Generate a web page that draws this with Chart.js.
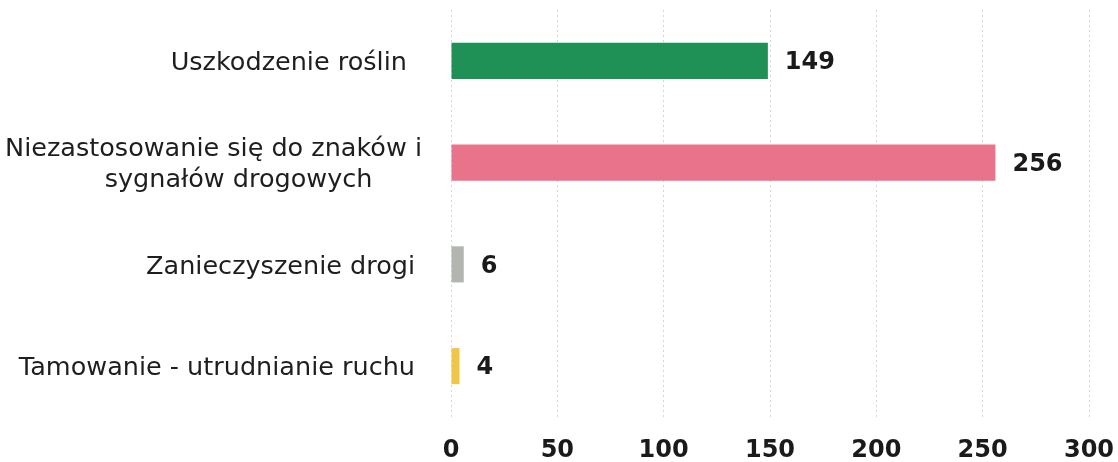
<!DOCTYPE html>
<html>
<head>
<meta charset="utf-8">
<script src="https://cdn.jsdelivr.net/npm/chart.js@4"></script>
<style>
  html, body { margin: 0; padding: 0; background: #fff; }
  #wrap { width: 1118px; height: 462px; }
</style>
</head>
<body>
<div id="wrap"><canvas id="chart" width="1118" height="462"></canvas></div>
<script>
const categories = [
  ['Uszkodzenie roślin '],
  ['Niezastosowanie się do znaków i', 'sygnałów drogowych'],
  ['Zanieczyszenie drogi'],
  ['Tamowanie - utrudnianie ruchu']
];
const values = [149, 256, 6, 4];
const barColors = ['#1f9157', '#e9738b', '#b2b5b0', '#f1c648'];
const xTicks = [0, 50, 100, 150, 200, 250, 300];

const fontFamily = '"DejaVu Sans", Verdana, sans-serif';

// category labels on the left (the 2-line one is centred like in the original)
const catLabels = {
  id: 'catLabels',
  afterDraw(chart) {
    const ctx = chart.ctx;
    const y = chart.scales.y;
    const right = chart.chartArea.left - 36;
    ctx.save();
    ctx.font = '25.5px ' + fontFamily;
    ctx.fillStyle = '#1e1e1e';
    ctx.textBaseline = 'middle';
    categories.forEach((lines, i) => {
      const cy = y.getPixelForValue(i) + 2.5;
      const lh = 31;
      if (lines.length === 1) {
        ctx.textAlign = 'right';
        ctx.fillText(lines[0], right, cy);
      } else {
        const w = ctx.measureText(lines[0]).width;
        const mid = right + 7 - w / 2;
        ctx.textAlign = 'center';
        lines.forEach((l, k) => {
          ctx.fillText(l, mid + (k > 0 ? 25 : 0), cy + (k - (lines.length - 1) / 2) * lh);
        });
      }
    });
    ctx.restore();
  }
};

// value labels at bar ends
const valueLabels = {
  id: 'valueLabels',
  afterDatasetsDraw(chart) {
    const ctx = chart.ctx;
    const meta = chart.getDatasetMeta(0);
    ctx.save();
    ctx.font = 'bold 24px ' + fontFamily;
    ctx.fillStyle = '#1a1a1a';
    ctx.textAlign = 'left';
    ctx.textBaseline = 'middle';
    meta.data.forEach((bar, i) => {
      ctx.fillText(String(values[i]), bar.x + 17, bar.y + 2);
    });
    ctx.restore();
  }
};

new Chart(document.getElementById('chart'), {
  type: 'bar',
  data: {
    labels: categories,
    datasets: [{
      data: values,
      backgroundColor: barColors,
      borderWidth: 0,
      categoryPercentage: 1,
      barPercentage: 0.355
    }]
  },
  options: {
    indexAxis: 'y',
    responsive: false,
    animation: false,
    layout: { padding: { top: 10, right: 29, left: 0, bottom: 0 } },
    plugins: {
      legend: { display: false },
      tooltip: { enabled: false }
    },
    scales: {
      x: {
        min: 0,
        max: 300,
        afterBuildTicks(scale) { scale.ticks = xTicks.map(v => ({ value: v })); },
        afterFit(scale) {
          scale.height = 45;
          scale.paddingLeft = 0;
          scale.paddingRight = 0;
        },
        border: { display: false, dash: [2, 3] },
        grid: { color: '#d6d6d6', lineWidth: 1, tickLength: 0 },
        ticks: {
          padding: 19,
          color: '#1a1a1a',
          font: { family: fontFamily, size: 24, weight: 'bold' }
        }
      },
      y: {
        afterFit(scale) { scale.width = 451; },
        border: { display: false },
        grid: { display: false },
        ticks: { display: false }
      }
    }
  },
  plugins: [catLabels, valueLabels]
});
</script>
</body>
</html>
